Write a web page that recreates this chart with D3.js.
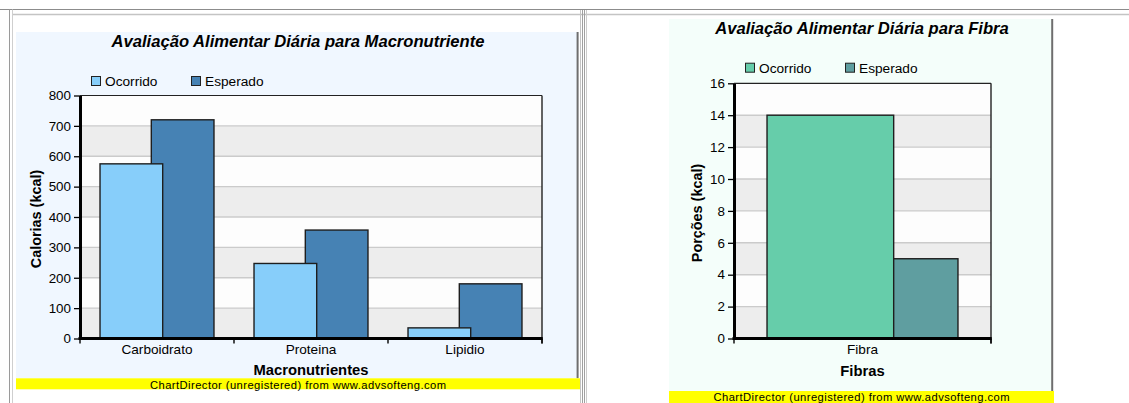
<!DOCTYPE html>
<html><head><meta charset="utf-8">
<script src="https://cdn.jsdelivr.net/npm/d3@7"></script>
<style>
body{margin:0;background:#fff;}
svg{display:block;font-family:"Liberation Sans",Arial,sans-serif;}
</style>
</head><body>
<svg id="c" width="1129" height="403"></svg>
<script>
// ---------------- data ----------------
const seriesNames = ["Ocorrido", "Esperado"];

const macroCategories = ["Carboidrato", "Proteina", "Lipidio"];
const macroOcorrido = [575, 247, 35];
const macroEsperado = [720, 357, 180];
const macroTicks = [0, 100, 200, 300, 400, 500, 600, 700, 800];

const fibraCategories = ["Fibra"];
const fibraOcorrido = [14];
const fibraEsperado = [5];
const fibraTicks = [0, 2, 4, 6, 8, 10, 12, 14, 16];

const macroTitle = "Avaliação Alimentar Diária para Macronutriente";
const macroYTitle = "Calorias (kcal)";
const macroXTitle = "Macronutrientes";
const fibraTitle = "Avaliação Alimentar Diária para Fibra";
const fibraYTitle = "Porções (kcal)";
const fibraXTitle = "Fibras";
const watermark = "ChartDirector (unregistered) from www.advsofteng.com";

// ---------------- page frame ----------------
const svg = d3.select("#c");
const frame = svg.append("g");
frame.append("line").attr("x1", 0).attr("x2", 1129).attr("y1", 9.5).attr("y2", 9.5).attr("stroke", "#8c8c8c");
frame.append("line").attr("x1", 12).attr("x2", 1129).attr("y1", 14.5).attr("y2", 14.5).attr("stroke", "#c4c4c4").attr("stroke-width", 1.5);
[[9.5, "#9a9a9a"], [12.5, "#cfcfcf"], [580.5, "#c4c4c4"], [582.5, "#a0a0a0"], [584.5, "#a0a0a0"], [586.5, "#cccccc"]]
  .forEach(([x, c]) => frame.append("line").attr("x1", x).attr("x2", x).attr("y1", x < 20 ? 9.5 : 10).attr("y2", 403).attr("stroke", c));

// ---------------- chart drawing ----------------
function drawChart(cfg) {
  const g = svg.append("g");
  const P = cfg.plot;
  // background
  g.append("rect").attr("x", cfg.bg[0]).attr("y", cfg.bg[1])
    .attr("width", cfg.bg[2] - cfg.bg[0]).attr("height", cfg.bg[3] - cfg.bg[1]).attr("fill", cfg.bgColor);
  g.append("line").attr("x1", cfg.edgeX).attr("x2", cfg.edgeX).attr("y1", cfg.bg[1]).attr("y2", cfg.bg[3])
    .attr("stroke", "#6e6e6e").attr("stroke-width", 2);

  const x = d3.scaleBand().domain(cfg.categories).range([P.x0, P.x1]);
  const groupW = x.bandwidth() * cfg.groupFrac;
  const sub = d3.scaleBand().domain(seriesNames).range([0, groupW]).paddingInner(-cfg.overlap);
  const y = d3.scaleLinear().domain([0, d3.max(cfg.ticks)]).range([P.y1, P.y0]);

  // alternating bands
  const ticks = cfg.ticks;
  for (let i = 0; i < ticks.length - 1; i++) {
    g.append("rect").attr("x", P.x0).attr("width", P.x1 - P.x0)
      .attr("y", y(ticks[i + 1])).attr("height", y(ticks[i]) - y(ticks[i + 1]))
      .attr("fill", i % 2 === 0 ? "#ededed" : "#fdfdfd");
  }
  // grid lines
  g.selectAll(".grid").data(ticks.slice(1, -1)).enter().append("line")
    .attr("x1", P.x0).attr("x2", P.x1).attr("y1", d => y(d)).attr("y2", d => y(d))
    .attr("stroke", "#cbcbcb").attr("stroke-width", 1.4);
  // top & right border
  g.append("line").attr("x1", P.x0).attr("x2", P.x1).attr("y1", y(d3.max(ticks))).attr("y2", y(d3.max(ticks)))
    .attr("stroke", "#222").attr("stroke-width", 1.2);
  g.append("line").attr("x1", P.x1).attr("x2", P.x1).attr("y1", y(d3.max(ticks))).attr("y2", P.y1 + 5)
    .attr("stroke", "#222").attr("stroke-width", 1.4);

  // bars (later series first, so the first series is drawn on top)
  const values = [cfg.ocorrido, cfg.esperado];
  for (let s = seriesNames.length - 1; s >= 0; s--) {
    g.selectAll(".bar" + s).data(cfg.categories).enter().append("rect")
      .attr("x", (c) => x(c) + (x.bandwidth() - groupW) / 2 + sub(seriesNames[s]))
      .attr("width", sub.bandwidth())
      .attr("y", (c, i) => y(values[s][i]))
      .attr("height", (c, i) => y(0) - y(values[s][i]))
      .attr("fill", cfg.colors[s]).attr("stroke", "#1e1e1e").attr("stroke-width", 1.4);
  }

  // y axis
  const ya = g.append("g").attr("transform", `translate(${P.x0},0)`)
    .call(d3.axisLeft(y).tickValues(ticks).tickSize(6).tickPadding(3).tickSizeOuter(0).tickFormat(d3.format("d")));
  ya.select(".domain").attr("stroke", "#000").attr("stroke-width", 3);
  ya.selectAll(".tick line").attr("stroke", "#000").attr("stroke-width", 1.3);
  ya.selectAll(".tick text").attr("font-size", "13.4px").attr("fill", "#000")
    .attr("font-family", "Liberation Sans, Arial, sans-serif");

  // x axis
  const boundaries = cfg.categories.map(c => x(c)).concat([x.range()[1]]);
  g.selectAll(".xt").data(boundaries).enter().append("line")
    .attr("x1", d => d).attr("x2", d => d).attr("y1", P.y1).attr("y2", P.y1 + 5)
    .attr("stroke", "#000").attr("stroke-width", 1.4);
  g.append("line").attr("x1", P.x0 - 1.5).attr("x2", P.x1 + 0.7).attr("y1", P.y1).attr("y2", P.y1)
    .attr("stroke", "#000").attr("stroke-width", 3);
  g.selectAll(".xl").data(cfg.categories).enter().append("text")
    .attr("x", c => x(c) + x.bandwidth() / 2).attr("y", cfg.catLabelY)
    .attr("text-anchor", "middle").attr("font-size", "13.6px").text(c => c);

  // titles
  g.append("text").attr("x", cfg.titleX).attr("y", cfg.titleY).attr("text-anchor", "middle")
    .attr("font-size", "16.6px").attr("font-weight", "bold").attr("font-style", "italic").text(cfg.title);
  g.append("text").attr("x", (P.x0 + P.x1) / 2).attr("y", cfg.xTitleY).attr("text-anchor", "middle")
    .attr("font-size", "14.8px").attr("font-weight", "bold").text(cfg.xTitle);
  g.append("text").attr("transform", `translate(${cfg.yTitleX},${cfg.yTitleY}) rotate(-90)`)
    .attr("text-anchor", "middle").attr("font-size", "14.4px").attr("font-weight", "bold").text(cfg.yTitle);

  // legend
  seriesNames.forEach((n, i) => {
    const lx = cfg.legendX + i * 100;
    g.append("rect").attr("x", lx + 0.5).attr("y", cfg.legendBaseline - 9.5).attr("width", 9).attr("height", 9)
      .attr("fill", cfg.colors[i]).attr("stroke", "#222").attr("stroke-width", 1);
    g.append("text").attr("x", lx + 14).attr("y", cfg.legendBaseline).attr("font-size", "13.7px").text(n);
  });

  // watermark bar
  g.append("rect").attr("x", cfg.yellow[0]).attr("y", cfg.yellow[1])
    .attr("width", cfg.yellow[2] - cfg.yellow[0]).attr("height", cfg.yellow[3] - cfg.yellow[1]).attr("fill", "#ffff00");
  g.append("text").attr("x", (cfg.yellow[0] + cfg.yellow[2]) / 2).attr("y", cfg.wmY).attr("text-anchor", "middle")
    .attr("font-size", "11.2px").attr("textLength", 296).attr("lengthAdjust", "spacing").text(watermark);
}

drawChart({
  categories: macroCategories, ocorrido: macroOcorrido, esperado: macroEsperado, ticks: macroTicks,
  title: macroTitle, xTitle: macroXTitle, yTitle: macroYTitle,
  colors: ["#87CEFA", "#4682B4"], bgColor: "#F0F7FF",
  bg: [16, 32, 577, 378.3], edgeX: 577.6,
  plot: { x0: 80, x1: 542, y0: 95.5, y1: 338.5 },
  groupFrac: 0.74, overlap: 0.222,
  titleX: 298, titleY: 46.7, legendX: 91, legendBaseline: 86,
  yTitleX: 41, yTitleY: 219, xTitleY: 375, catLabelY: 354,
  yellow: [16, 378.3, 580, 389.3], wmY: 388.8
});

drawChart({
  categories: fibraCategories, ocorrido: fibraOcorrido, esperado: fibraEsperado, ticks: fibraTicks,
  title: fibraTitle, xTitle: fibraXTitle, yTitle: fibraYTitle,
  colors: ["#66CDAA", "#5F9EA0"], bgColor: "#F4FEFA",
  bg: [669, 19, 1051, 391], edgeX: 1052.2,
  plot: { x0: 734, x1: 991, y0: 83.3, y1: 338.5 },
  groupFrac: 0.743, overlap: 0.97,
  titleX: 862, titleY: 34.3, legendX: 745, legendBaseline: 72.7,
  yTitleX: 701.7, yTitleY: 213, xTitleY: 375.7, catLabelY: 354,
  yellow: [669, 391, 1054, 403], wmY: 401.2
});
</script>
</body></html>
